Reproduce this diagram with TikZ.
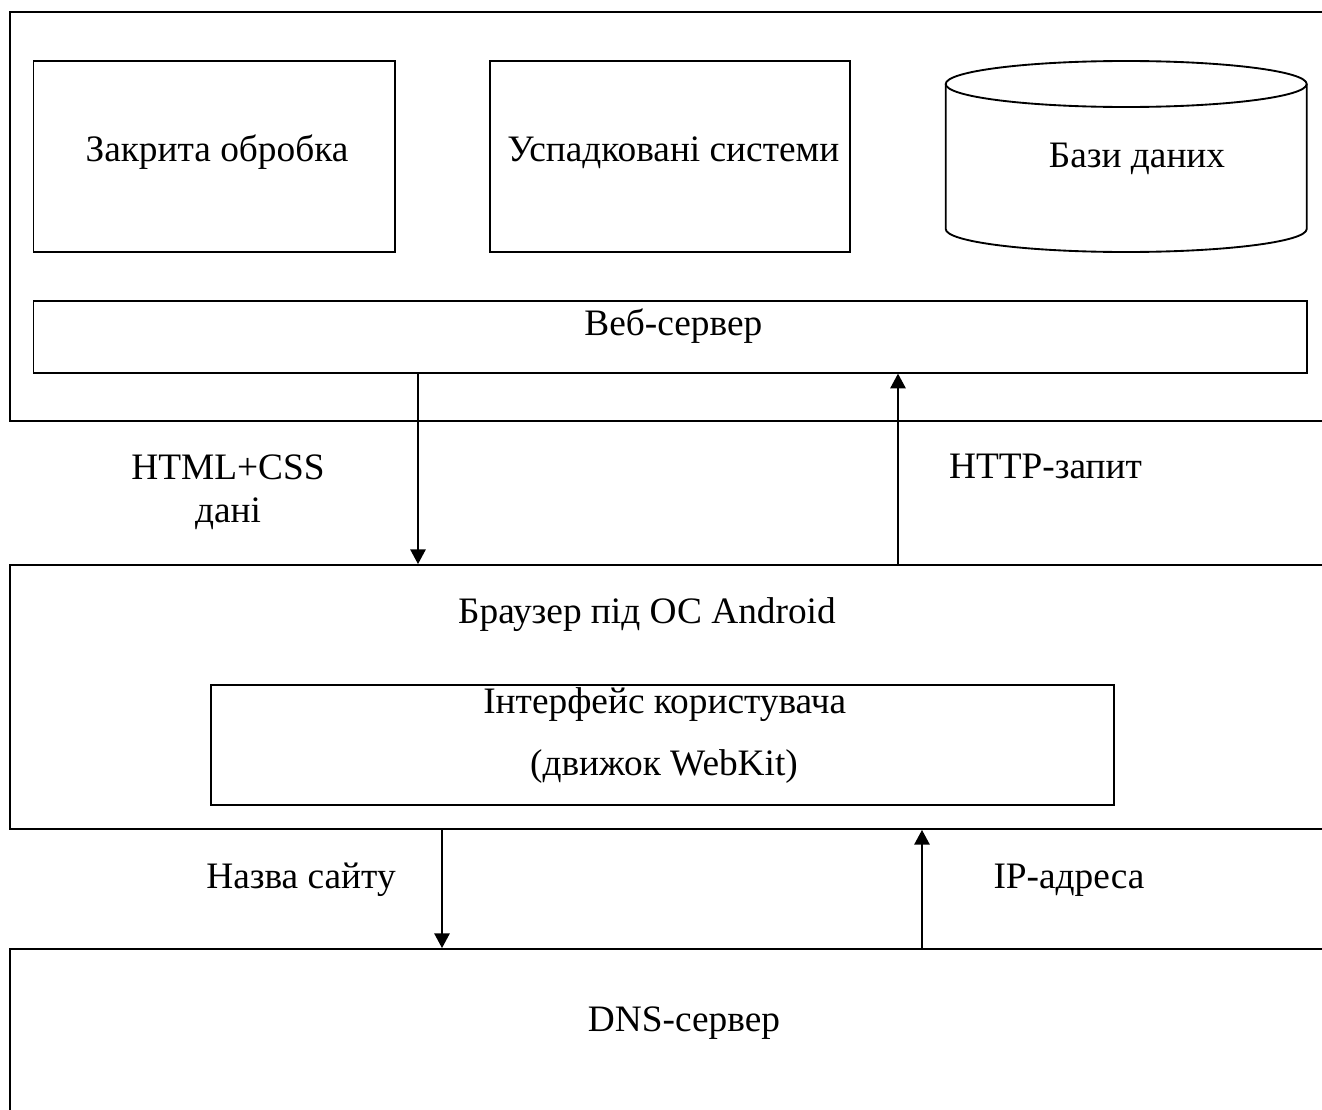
\documentclass[tikz,border=0pt]{standalone}
\usepackage{fontspec}
\setmainfont{Liberation Serif}
\usetikzlibrary{arrows.meta}
\begin{document}
\begin{tikzpicture}[x=0.75pt,y=-0.75pt,
  box/.style={draw,line width=1.4pt,inner sep=0pt,rectangle},
  lbl/.style={anchor=base,inner sep=0pt,font=\fontsize{28}{33}\selectfont},
  arr/.style={line width=1.2pt,-{Triangle[length=11pt,width=11.5pt]}}]
\clip (0,0) rectangle (1322,1110);
\fill[white] (0,0) rectangle (1322,1110);
% outer boxes
\node[box,minimum width=1320*0.75pt,minimum height=409*0.75pt] (server) at (670,216.5) {};
\node[box,minimum width=1320*0.75pt,minimum height=264*0.75pt] (browser) at (670,697) {};
\node[box,minimum width=1320*0.75pt,minimum height=200*0.75pt] (dns) at (670,1049) {};
% inner boxes
\node[box,minimum width=361.5*0.75pt,minimum height=191*0.75pt] (closed) at (214.25,156.5) {};
\node[box,minimum width=360*0.75pt,minimum height=191*0.75pt] (legacy) at (670,156.5) {};
\node[inner sep=0pt,minimum width=361*0.75pt,minimum height=191*0.75pt] (db) at (1126.2,156.5) {};
\draw[line width=1.4pt] (945.7,84) -- (945.7,229) arc[start angle=180,end angle=0,x radius=180.5,y radius=23] -- (1306.7,84);
\draw[line width=1.4pt] (1126.2,84) ellipse[x radius=180.5,y radius=23];
\node[box,minimum width=1273.2*0.75pt,minimum height=72*0.75pt] (web) at (670.1,336.7) {};
\node[box,minimum width=903.3*0.75pt,minimum height=119.7*0.75pt] (ui) at (662.35,744.85) {};
% labels
\node[lbl] (tclosed) at (217,161.7) {Закрита обробка};
\node[lbl] (tlegacy) at (673.3,161.7) {Успадковані системи};
\node[lbl] (tdb) at (1137,167.7) {Бази даних};
\node[lbl] (tweb) at (673.3,335) {Веб-сервер};
\node[lbl] (thtml) at (228,479) {HTML+CSS};
\node[lbl] (tdani) at (228,522.7) {дані};
\node[lbl] (thttp) at (1045.5,478) {HTTP-запит};
\node[lbl] (tbrowser) at (647,623) {Браузер під ОС Android};
\node[lbl] (tui1) at (664.7,713) {Інтерфейс користувача};
\node[lbl] (tui2) at (664,775) {(движок WebKit)};
\node[lbl] (tname) at (301,888) {Назва сайту};
\node[lbl] (tip) at (1069,888) {IP-адреса};
\node[lbl] (tdns) at (684,1031.7) {DNS-сервер};
% connectors
\coordinate (c1) at (418,0);
\coordinate (c2) at (898,0);
\coordinate (c3) at (442,0);
\coordinate (c4) at (922,0);
\draw[arr] (web.south -| c1) -- (browser.north -| c1);
\draw[arr] (browser.north -| c2) -- (web.south -| c2);
\draw[arr] (browser.south -| c3) -- (dns.north -| c3);
\draw[arr] (dns.north -| c4) -- (browser.south -| c4);
\end{tikzpicture}
\end{document}
